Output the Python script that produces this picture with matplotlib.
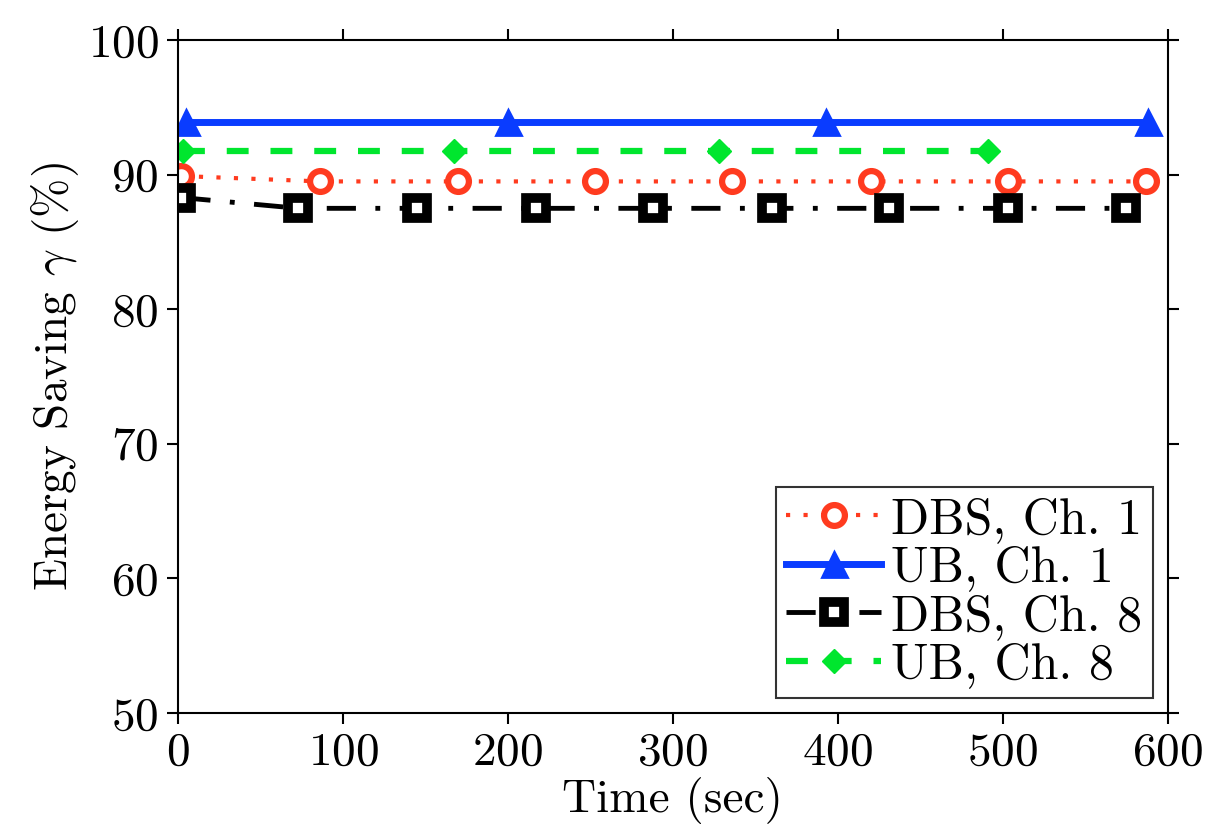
import matplotlib
matplotlib.use("Agg")
import matplotlib.pyplot as plt

plt.rcParams['font.family'] = 'cmr10'
plt.rcParams['mathtext.fontset'] = 'cm'
plt.rcParams['axes.formatter.use_mathtext'] = True

# DBS, Ch. 1
x_dbs1 = [2, 86, 170, 253, 336, 420, 503, 587]
y_dbs1 = [89.9, 89.5, 89.5, 89.5, 89.5, 89.5, 89.5, 89.5]
# UB, Ch. 1
x_ub1 = [5, 200, 393, 588]
y_ub1 = [93.9, 93.9, 93.9, 93.9]
# DBS, Ch. 8
x_dbs8 = [2, 73, 145, 217, 288, 360, 431, 503, 575]
y_dbs8 = [88.3, 87.5, 87.5, 87.5, 87.5, 87.5, 87.5, 87.5, 87.5]
# UB, Ch. 8
x_ub8 = [3, 167, 328, 491]
y_ub8 = [91.75, 91.75, 91.75, 91.75]

fig = plt.figure(figsize=(12.2, 8.35), dpi=100)
ax = fig.add_axes([0.146, 0.146, 0.811, 0.806])

ax.plot(x_dbs1, y_dbs1, color='#ff3b1f', lw=3, marker='o', ms=15,
        mfc='white', mec='#ff3b1f', mew=4.5, label='DBS, Ch. 1',
        dashes=(1, 3.2))
ax.plot(x_ub1, y_ub1, '-', color='#0a3cff', lw=5, marker='^', ms=18,
        mfc='#0a3cff', mec='#0a3cff', mew=2, label='UB, Ch. 1')
ax.plot(x_dbs8, y_dbs8, color='black', lw=3.5, marker='s', ms=15,
        mfc='white', mec='black', mew=7, label='DBS, Ch. 8',
        dashes=(6, 4, 1, 4))
ax.plot(x_ub8, y_ub8, color='#00e62e', lw=4.5, marker='D', ms=12,
        mfc='#00e62e', mec='#00e62e', label='UB, Ch. 8', dashes=(3.5, 3.5))

ax.set_xlim(0, 600)
ax.set_ylim(50, 100)
ax.set_xticks([0, 100, 200, 300, 400, 500, 600])
ax.set_yticks([50, 60, 70, 80, 90, 100])
ax.tick_params(direction='out', length=8, width=1.5, labelsize=34,
               top=True, right=True, pad=6)
for s in ax.spines.values():
    s.set_linewidth(1.5)

ax.set_xlabel('Time (sec)', fontsize=34, labelpad=2)
ax.set_ylabel(r'Energy Saving $\gamma$ (%)', fontsize=34, labelpad=5)

leg = ax.legend(loc='lower right', fontsize=36, frameon=True, fancybox=False,
                edgecolor='black', handlelength=1.9, handletextpad=0.2,
                labelspacing=0.05, borderpad=0.2, borderaxespad=0.3)
leg.get_frame().set_linewidth(1.5)

fig.savefig('out.png', dpi=100)
